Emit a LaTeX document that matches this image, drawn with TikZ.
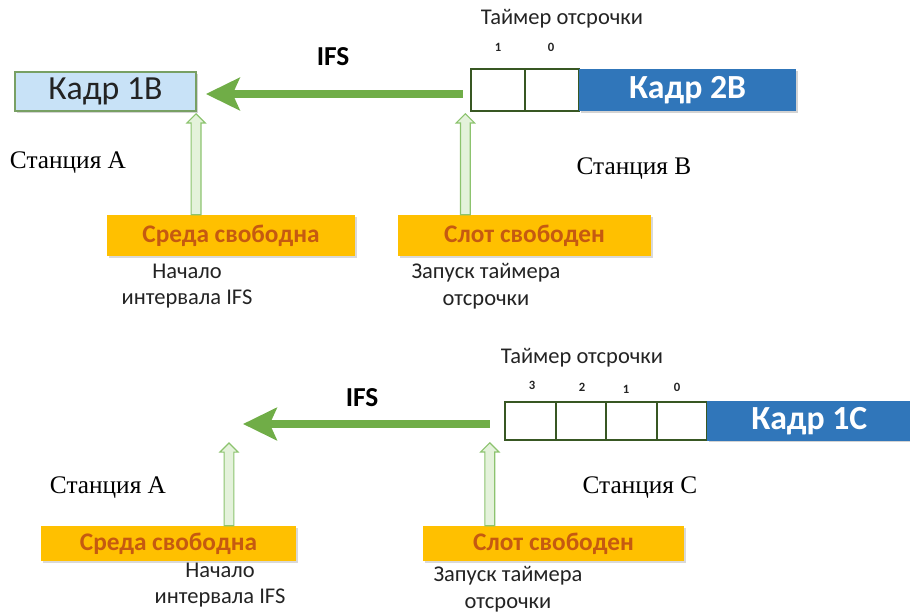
\documentclass[tikz,border=0pt]{standalone}
\usepackage{fontspec}
\setmainfont{Carlito}
\newfontfamily\stfont{Liberation Serif}
\usepackage{tikz}
\usetikzlibrary{arrows.meta, positioning, calc, shadows}
\definecolor{mydark}{RGB}{35,35,35}
\definecolor{mylight}{RGB}{200,226,247}
\definecolor{myframe}{RGB}{120,160,100}
\definecolor{myblue}{RGB}{48,118,186}
\definecolor{mycell}{RGB}{56,87,35}
\definecolor{mygreen}{RGB}{112,173,71}
\definecolor{myhollow}{RGB}{140,195,110}
\definecolor{myhollowfill}{RGB}{228,242,219}
\definecolor{myorange}{RGB}{255,192,0}
\definecolor{mybrown}{RGB}{197,90,17}
\tikzset{
  framebox/.style={rectangle, draw=myframe, fill=mylight, text=mydark,
    minimum width=4.525cm, minimum height=0.975cm, line width=1pt,
    font=\fontsize{24}{27}\selectfont, outer sep=0pt,
    drop shadow={opacity=0.35, shadow xshift=1.3pt, shadow yshift=-1.3pt}},
  bluebox/.style={rectangle, fill=myblue, text=white,
    minimum height=1.05cm, inner sep=0pt, outer sep=0pt,
    font=\fontsize{24}{27}\selectfont\bfseries,
    drop shadow={opacity=0.35, shadow xshift=1.3pt, shadow yshift=-1.3pt}},
  timercell/.style={rectangle, draw=mycell, fill=white, line width=1.4pt,
    minimum width=1.35cm, minimum height=1.05cm, inner sep=0pt, outer sep=0pt},
  freebox/.style={rectangle, fill=myorange, text=mybrown,
    minimum height=1.025cm, inner sep=0pt,
    font=\fontsize{18}{21}\selectfont\bfseries,
    drop shadow={opacity=0.3, shadow xshift=1.3pt, shadow yshift=-1.3pt}},
  note/.style={align=center, text=mydark, font=\fontsize{16}{19}\selectfont},
  station/.style={text=black, font=\stfont\fontsize{18}{21}\selectfont},
  digit/.style={text=mydark, font=\fontsize{9}{10}\selectfont\bfseries},
  ifslabel/.style={text=black, font=\fontsize{19.5}{22}\selectfont\bfseries},
  ifsarrow/.style={line width=5.7pt, color=mygreen,
    -{Stealth[length=24pt, width=23pt, inset=5pt]}},
  hollowarrow/.style={draw=myhollow, fill=myhollowfill, line width=0.8pt,
    to path={let \p1=(\tikztostart), \p2=(\tikztotarget) in
      (\x1-3.5pt,\y1) -- (\x1-3.5pt,\y2-6.5pt) -- (\x1-6.5pt,\y2-6.5pt) -- (\x1,\y2)
      -- (\x1+6.5pt,\y2-6.5pt) -- (\x1+3.5pt,\y2-6.5pt) -- (\x1+3.5pt,\y1) -- cycle}}
}
\begin{document}
\begin{tikzpicture}[x=0.025cm, y=-0.025cm]
  \useasboundingbox (0,0) rectangle (910,612);

  % --- upper part: stations A and B
  \node[framebox] (kadr1b) at (105.5,91.5) {Кадр 1В};
  \node[timercell] (t1a) at (498,90) {};
  \node[timercell, right=0pt of t1a] (t1b) {};
  \node[bluebox, minimum width=5.425cm, right=0pt of t1b] (kadr2b) {Кадр 2В};
  \node[digit] (d1a) at (498,47) {1};
  \node[digit] (d1b) at (551,47) {0};
  \node[note] (timer1) at (562,19) {Таймер отсрочки};
  \node[ifslabel] (ifs1lbl) at (333,57) {IFS};

  \node[station] (sta1) at (68,163) {Станция А};
  \node[station] (stb1) at (634,169) {Станция В};

  \node[freebox, minimum width=6.2cm] (sreda1) at (231,235.5) {Среда свободна};
  \node[freebox, minimum width=6.325cm] (slot1) at (524.5,235.5) {Слот свободен};
  \node[note] (nach1) at (187,286) {Начало\\интервала IFS};
  \node[note] (zap1) at (486,286) {Запуск таймера\\отсрочки};

  \coordinate (ifs1) at (0,94);
  \draw[ifsarrow] ([xshift=-6pt]ifs1 -| t1a.west) -- ([xshift=7pt]ifs1 -| kadr1b.east);
  \path[hollowarrow] (sreda1.north -| kadr1b.east) to ([yshift=-2pt]kadr1b.south east);
  \path[hollowarrow] ([xshift=-4pt]slot1.north -| t1a.west) to ([xshift=-4pt, yshift=-2pt]t1a.south west);

  % --- lower part: stations A and C
  \node[timercell, minimum width=1.2625cm, minimum height=0.95cm] (t2a) at (530.5,421) {};
  \node[timercell, minimum width=1.2625cm, minimum height=0.95cm, right=0pt of t2a] (t2b) {};
  \node[timercell, minimum width=1.2625cm, minimum height=0.95cm, right=0pt of t2b] (t2c) {};
  \node[timercell, minimum width=1.2625cm, minimum height=0.95cm, right=0pt of t2c] (t2d) {};
  \node[bluebox, minimum width=5.1cm, minimum height=0.975cm, anchor=west] (kadr1c) at (t2d.east) {Кадр 1С};
  \node[digit] (d2a) at (532,385) {3};
  \node[digit] (d2b) at (582,387) {2};
  \node[digit] (d2c) at (626,389) {1};
  \node[digit] (d2d) at (677,387) {0};
  \node[note] (timer2) at (582,358) {Таймер отсрочки};
  \node[ifslabel] (ifs2lbl) at (362,398) {IFS};

  \node[station] (sta2) at (108,488) {Станция А};
  \node[station] (stc2) at (640,488) {Станция С};

  \node[freebox, minimum width=6.375cm, minimum height=0.875cm] (sreda2) at (168.5,543.5) {Среда свободна};
  \node[freebox, minimum width=6.525cm, minimum height=0.875cm] (slot2) at (553.5,543.5) {Слот свободен};
  \node[note] (nach2) at (220,585) {Начало\\интервала IFS};
  \node[note] (zap2) at (508,589) {Запуск таймера\\отсрочки};

  \coordinate (ifs2) at (243,424);
  \coordinate (gap2) at (229,443);
  \draw[ifsarrow] ([xshift=-11pt]ifs2 -| t2a.west) -- (ifs2);
  \path[hollowarrow] (sreda2.north -| gap2) to (gap2);
  \path[hollowarrow] ([xshift=-11pt]slot2.north -| t2a.west) to ([xshift=-11pt, yshift=-2pt]t2a.south west);
\end{tikzpicture}
\end{document}
